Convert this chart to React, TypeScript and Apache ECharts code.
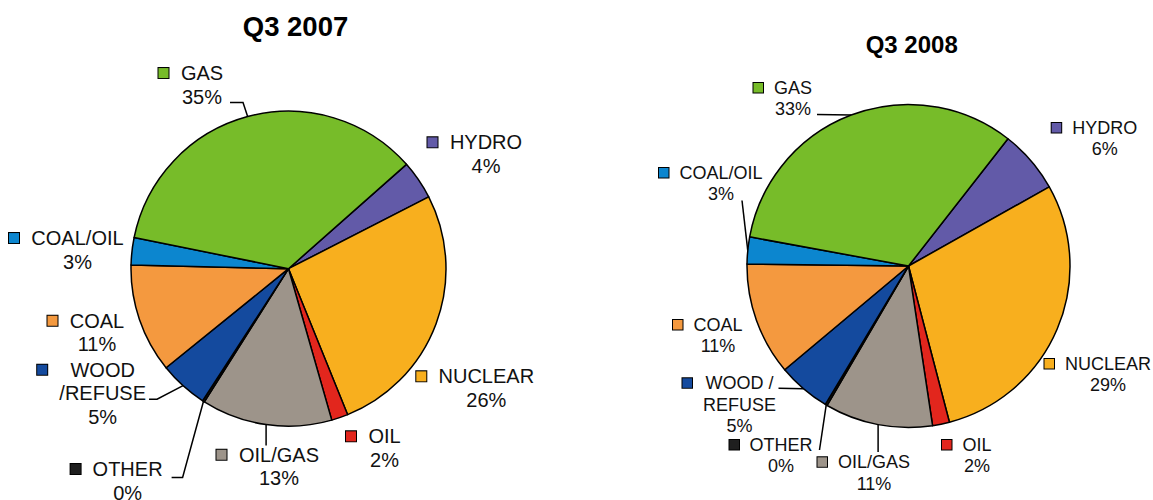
import React, { useEffect, useRef } from 'react';
import * as echarts from 'echarts';

// ---------- data ----------
const titles = ['Q3 2007', 'Q3 2008'];
const categories2007 = ['HYDRO', 'NUCLEAR', 'OIL', 'OIL/GAS', 'OTHER', 'WOOD\n/REFUSE', 'COAL', 'COAL/OIL', 'GAS'];
const categories2008 = ['HYDRO', 'NUCLEAR', 'OIL', 'OIL/GAS', 'OTHER', 'WOOD /\nREFUSE', 'COAL', 'COAL/OIL', 'GAS'];
const values2007 = [4.0, 26.4, 1.7, 13.4, 0.2, 5.0, 11.2, 2.8, 35.3];
const values2008 = [6.3, 29.1, 1.7, 10.8, 0.2, 5.3, 11.3, 2.7, 32.7];
const sliceColors = ['#625AA8', '#F8AF1E', '#E2261D', '#9D948A', '#1F1F1F', '#144A9E', '#F4993F', '#0C86CF', '#77BC29'];

// ---------- layout (label text centre x, first-line baseline y) ----------
const labelPos2007 = [[486, 149.3], [486.3, 383.3], [384.5, 443.3], [279, 461.7], [127.6, 476], [102.7, 376.7], [97, 327.7], [77.5, 245], [202, 80]];
const labelPos2008 = [[1104.7, 134], [1108, 370], [977, 451], [874, 468.3], [781, 451], [739.5, 389.3], [718, 331], [721, 179], [793, 94]];

type Leader = { side: 'right' | 'top'; row?: number; gap: number; stub?: number; dy?: number } | null;
const leaders2007: Leader[] = [null, null, null,
  { side: 'top', gap: 2 },
  { side: 'right', row: 0, gap: 9, stub: 11, dy: 1.5 },
  { side: 'right', row: 1, gap: 3, stub: 8, dy: -1 },
  null, null,
  { side: 'right', row: 1, gap: 8, stub: 13, dy: -1 }];
const leaders2008: Leader[] = [null, null, null,
  { side: 'top', gap: 3.5 },
  { side: 'right', row: 0, gap: 7, stub: 0, dy: -1 },
  { side: 'right', row: 0, gap: 5, stub: 0, dy: -1 },
  null,
  { side: 'right', row: 1, gap: 8, stub: 0, dy: 0 },
  { side: 'right', row: 1, gap: 6, stub: 0, dy: -1 }];

const FONT = '"Liberation Sans", Arial, Helvetica, sans-serif';

const pies = [
  { title: titles[0], names: categories2007, values: values2007, pos: labelPos2007, leaders: leaders2007,
    center: [288.5, 268.7], radius: 157.5, startAngle: 41.5, fs: 20, lh: 23.5, sq: 10, gap: 11.5,
    titleX: 295.5, titleY: 26.5, titleFs: 27.5 },
  { title: titles[1], names: categories2008, values: values2008, pos: labelPos2008, leaders: leaders2008,
    center: [908.5, 266], radius: 161.5, startAngle: 52, fs: 18, lh: 21.5, sq: 9.5, gap: 10,
    titleX: 911.7, titleY: 44.4, titleFs: 24 },
];

export default function App() {
  const ref = useRef<HTMLDivElement>(null);
  useEffect(() => {
    if (!ref.current) return;
    const chart = echarts.init(ref.current, undefined, { renderer: 'svg' });
    const ctx = document.createElement('canvas').getContext('2d')!;
    const measure = (t: string, fs: number) => {
      ctx.font = `${fs}px "Liberation Sans"`;
      return ctx.measureText(t).width;
    };

    const infos = pies.map((p) =>
      p.names.map((name, i) => {
        const rows = [...name.split('\n'), `${Math.round(p.values[i])}%`];
        const rowW = rows.map((r) => measure(r, p.fs));
        const W = Math.ceil(Math.max(...rowW)) + 1;
        return { rows, rowW, W, cx: p.pos[i][0], by: p.pos[i][1], leader: p.leaders[i] };
      })
    );

    const series = pies.map((p, si) => ({
      type: 'pie',
      center: p.center,
      radius: p.radius,
      startAngle: p.startAngle,
      clockwise: true,
      avoidLabelOverlap: false,
      silent: true,
      itemStyle: { borderColor: '#000', borderWidth: 1.5 },
      label: { show: true, position: 'outside', color: '#111', fontFamily: FONT, fontSize: p.fs, lineHeight: p.lh },
      labelLine: { show: false, lineStyle: { color: '#000', width: 1.5 } },
      labelLayout: (params: any) => {
        const info = infos[si][params.dataIndex];
        const left = info.cx - info.W / 2 - (p.sq + p.gap);
        const top = info.by - (p.lh / 2 + 0.3465 * p.fs);
        const res: any = { x: left, y: top, align: 'left', verticalAlign: 'top' };
        const ld = info.leader;
        if (ld && params.labelLinePoints && params.labelLinePoints[0]) {
          const edge = params.labelLinePoints[0];
          if (ld.side === 'right') {
            const row = ld.row || 0;
            const end = [info.cx + info.rowW[row] / 2 + ld.gap, info.by + row * p.lh + (ld.dy || 0)];
            const elbow = [end[0] + (ld.stub || 0), end[1]];
            res.labelLinePoints = [edge, elbow, end];
          } else {
            const capTop = info.by - 0.716 * p.fs;
            const end = [edge[0], capTop - ld.gap];
            res.labelLinePoints = [edge, [edge[0], (edge[1] + end[1]) / 2], end];
          }
        }
        return res;
      },
      data: p.names.map((name, i) => {
        const info = infos[si][i];
        const lines = info.rows.map((r, k) => (k === 0 ? `{sq| }{g| }{t|${r}}` : `{s| }{t|${r}}`));
        return {
          name,
          value: p.values[i],
          itemStyle: { color: sliceColors[i] },
          labelLine: { show: !!info.leader },
          label: {
            formatter: lines.join('\n'),
            rich: {
              sq: { width: p.sq, height: p.sq, backgroundColor: sliceColors[i], borderColor: '#000', borderWidth: 1, align: 'left', fontSize: p.fs, lineHeight: p.lh },
              g: { width: p.gap, align: 'left', fontSize: p.fs, lineHeight: p.lh },
              s: { width: p.sq + p.gap, align: 'left', fontSize: p.fs, lineHeight: p.lh },
              t: { width: info.W, align: 'center', fontSize: p.fs, fontFamily: FONT, color: '#111', lineHeight: p.lh },
            },
          },
        };
      }),
    }));

    chart.setOption({
      animation: false,
      backgroundColor: '#fff',
      graphic: pies.map((p) => ({
        type: 'text',
        x: p.titleX,
        y: p.titleY,
        silent: true,
        style: {
          text: p.title,
          fontFamily: FONT,
          fontWeight: 'bold',
          fontSize: p.titleFs,
          fill: '#000',
          align: 'center',
          verticalAlign: 'middle',
        },
      })),
      series,
    } as any);
    return () => chart.dispose();
  }, []);
  return <div ref={ref} style={{ position: 'fixed', left: 0, top: 0, width: 1153, height: 500 }} />;
}
